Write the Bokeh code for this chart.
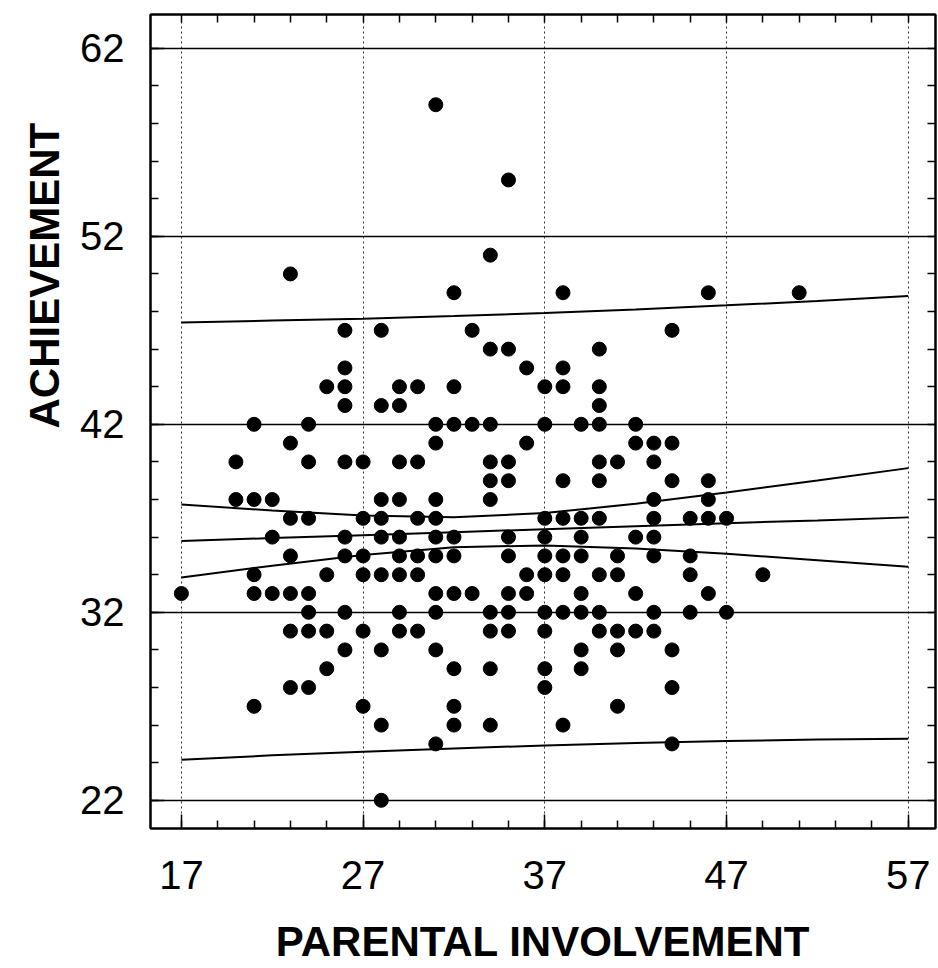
import numpy as np
from bokeh.plotting import figure
from bokeh.models import Range1d, FixedTicker, LinearAxis, Title
from bokeh.embed import file_html
from bokeh.resources import INLINE

# ---------------- data ----------------
parental = [
    31,
    35,
    34,
    23,
    32, 38, 46, 51,
    26, 28, 33, 44,
    34, 35, 40,
    26, 36, 38,
    25, 26, 29, 30, 32, 37, 38, 40,
    26, 28, 29, 40,
    21, 24, 31, 32, 33, 34, 37, 39, 40, 42,
    23, 31, 36, 42, 43, 44,
    20, 24, 26, 27, 29, 30, 34, 35, 40, 41, 43,
    34, 35, 38, 40, 44, 46,
    20, 21, 22, 28, 29, 31, 34, 43, 46,
    23, 24, 27, 28, 30, 31, 37, 38, 39, 40, 43, 45, 46, 47,
    22, 26, 28, 29, 31, 32, 35, 37, 39, 42, 43,
    23, 26, 27, 29, 30, 31, 32, 35, 37, 38, 39, 41, 43, 45,
    21, 25, 27, 28, 29, 30, 36, 37, 38, 40, 41, 45, 49,
    17, 21, 22, 23, 24, 31, 32, 33, 35, 36, 39, 42, 46,
    24, 26, 29, 31, 34, 35, 37, 38, 39, 40, 43, 45, 47,
    23, 24, 25, 27, 29, 30, 34, 35, 37, 40, 41, 42, 43,
    26, 28, 31, 39, 41, 44,
    25, 32, 34, 37, 39,
    23, 24, 37, 44,
    21, 27, 32, 41,
    28, 32, 34, 38,
    31, 44,
    28,
]
achievement = [
    59,
    55,
    51,
    50,
    49, 49, 49, 49,
    47, 47, 47, 47,
    46, 46, 46,
    45, 45, 45,
    44, 44, 44, 44, 44, 44, 44, 44,
    43, 43, 43, 43,
    42, 42, 42, 42, 42, 42, 42, 42, 42, 42,
    41, 41, 41, 41, 41, 41,
    40, 40, 40, 40, 40, 40, 40, 40, 40, 40, 40,
    39, 39, 39, 39, 39, 39,
    38, 38, 38, 38, 38, 38, 38, 38, 38,
    37, 37, 37, 37, 37, 37, 37, 37, 37, 37, 37, 37, 37, 37,
    36, 36, 36, 36, 36, 36, 36, 36, 36, 36, 36,
    35, 35, 35, 35, 35, 35, 35, 35, 35, 35, 35, 35, 35, 35,
    34, 34, 34, 34, 34, 34, 34, 34, 34, 34, 34, 34, 34,
    33, 33, 33, 33, 33, 33, 33, 33, 33, 33, 33, 33, 33,
    32, 32, 32, 32, 32, 32, 32, 32, 32, 32, 32, 32, 32,
    31, 31, 31, 31, 31, 31, 31, 31, 31, 31, 31, 31, 31,
    30, 30, 30, 30, 30, 30,
    29, 29, 29, 29, 29,
    28, 28, 28, 28,
    27, 27, 27, 27,
    26, 26, 26, 26,
    25, 25,
    22,
]

# regression line with 95% confidence and prediction bands
band_x = [17, 22, 27, 32, 37, 42, 47, 52, 57]
fit_line = [35.79, 35.95, 36.10, 36.26, 36.42, 36.58, 36.74, 36.89, 37.05]
conf_upper = [37.73, 37.42, 37.15, 37.06, 37.28, 37.77, 38.37, 39.01, 39.67]
conf_lower = [33.85, 34.48, 35.05, 35.46, 35.56, 35.39, 35.11, 34.77, 34.43]
pred_upper = [47.42, 47.52, 47.62, 47.76, 47.92, 48.11, 48.33, 48.56, 48.82]
pred_lower = [24.16, 24.39, 24.58, 24.76, 24.92, 25.05, 25.15, 25.23, 25.28]

x_ticks = [17, 27, 37, 47, 57]
y_ticks = [22, 32, 42, 52, 62]
x_minor = [15, 17, 19, 21, 23, 25, 27, 29, 31, 33, 35, 37, 39, 41, 43, 45, 47, 49, 51, 53, 55, 57]
y_minor = [22, 24, 26, 28, 30, 32, 34, 36, 38, 40, 42, 44, 46, 48, 50, 52, 54, 56, 58, 60, 62]
x_title = "PARENTAL INVOLVEMENT"
y_title = "ACHIEVEMENT"

FONT = "'Liberation Sans', Arial, Helvetica, sans-serif"

p = figure(width=938, height=968, output_backend="svg", toolbar_location=None,
           x_range=Range1d(15.3, 58.5), y_range=Range1d(20.5, 63.8),
           min_border_left=150, min_border_right=3, min_border_top=14,
           min_border_bottom=140)
p.background_fill_color = "white"
p.border_fill_color = "white"
p.outline_line_color = "black"
p.outline_line_width = 2

xt = FixedTicker(ticks=x_ticks, minor_ticks=x_minor)
yt = FixedTicker(ticks=y_ticks, minor_ticks=y_minor)
p.xaxis.ticker = xt
p.yaxis.ticker = yt

for ax in (p.xaxis[0], p.yaxis[0]):
    ax.axis_line_color = "black"
    ax.axis_line_width = 2
    ax.major_tick_in = 14
    ax.major_tick_out = 0
    ax.minor_tick_in = 8
    ax.minor_tick_out = 0
    ax.major_tick_line_width = 1.5
    ax.minor_tick_line_width = 1.5
    ax.major_tick_line_color = "black"
    ax.minor_tick_line_color = "black"
    ax.major_label_text_font = FONT
    ax.major_label_text_font_size = "40px"
    ax.major_label_text_color = "black"

p.yaxis.major_label_standoff = 26
p.xaxis.major_label_standoff = 32
p.xaxis.axis_label = x_title
p.xaxis.axis_label_text_font = FONT
p.xaxis.axis_label_text_font_size = "42px"
p.xaxis.axis_label_text_font_style = "bold"
p.xaxis.axis_label_text_color = "black"
p.xaxis.axis_label_standoff = 26

# tick marks (no labels) on the right and top edges of the frame
for side, minor in (("right", y_minor), ("above", x_minor)):
    ax = LinearAxis(ticker=FixedTicker(ticks=[], minor_ticks=minor),
                    major_tick_in=0, major_tick_out=0, minor_tick_in=8, minor_tick_out=0,
                    axis_line_width=2, minor_tick_line_width=1.5, minor_tick_line_color="black")
    p.add_layout(ax, side)

p.xgrid.grid_line_color = "#333333"
p.xgrid.grid_line_dash = "2 3"
p.xgrid.grid_line_width = 1
p.ygrid.grid_line_color = "black"
p.ygrid.grid_line_width = 1.5

# the vertical title sits above the frame's middle in the reference:
# leading no-break spaces push the visible word upwards
p.add_layout(Title(text="\u00a0" * 25 + y_title, align="center", standoff=20,
                   text_font=FONT, text_font_size="42px", text_font_style="bold",
                   text_color="black"), "left")

for band in (fit_line, conf_upper, conf_lower, pred_upper, pred_lower):
    p.line(band_x, band, line_color="black", line_width=2)

p.scatter(parental, achievement, size=14, fill_color="black", line_color="black")

open("out.html", "w").write(file_html(p, INLINE))
